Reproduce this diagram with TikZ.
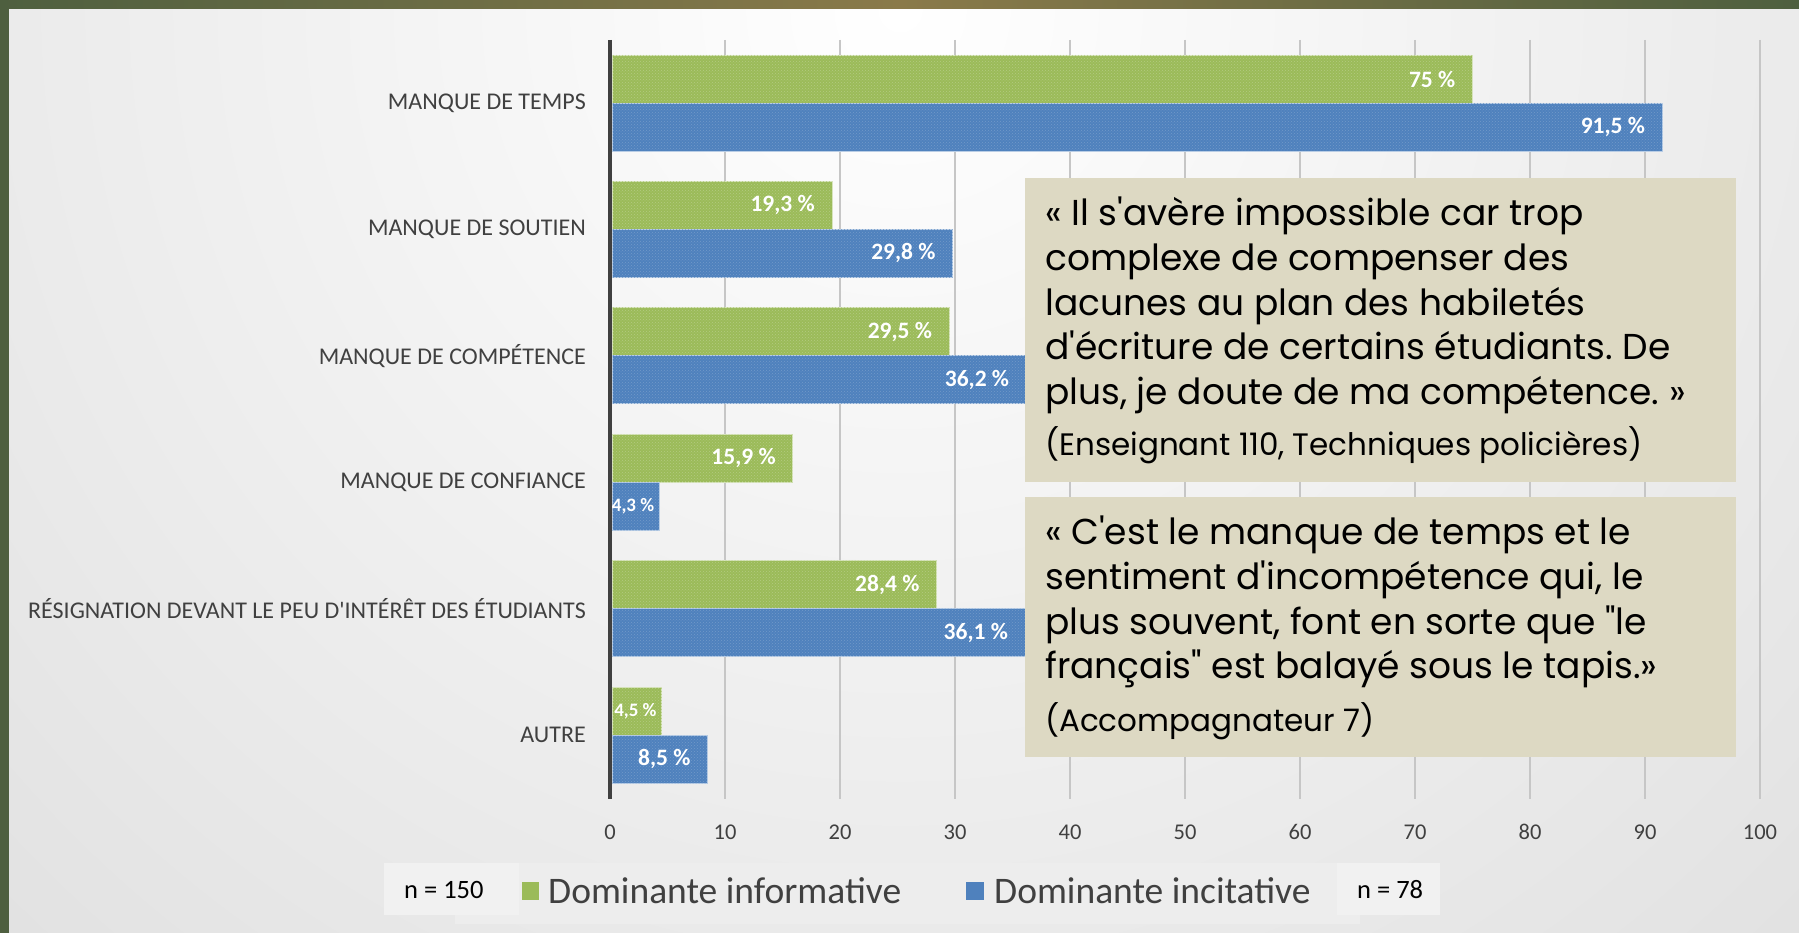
\documentclass[tikz,border=0pt]{standalone}
\usepackage{fontspec}
\setmainfont{Carlito}
\newfontfamily\quotefont{Poppins}
\usetikzlibrary{patterns}
\definecolor{frame}{HTML}{4E5F3F}
\definecolor{gold}{HTML}{8A7A4A}
\definecolor{panelgray}{HTML}{C4C4C4}
\definecolor{barinf}{HTML}{9BBB59}
\definecolor{barinc}{HTML}{4F81BD}
\definecolor{quotebg}{HTML}{DDD9C3}
\definecolor{txtgray}{HTML}{404040}
\definecolor{gridgray}{HTML}{C6C6C6}
\newcommand{\ap}{\textquotesingle}
\frenchspacing
\tikzset{
  catlabel/.style={anchor=east, inner sep=0, text=txtgray, font=\fontsize{24}{28}\selectfont},
  ticklabel/.style={inner sep=0, text=txtgray, font=\fontsize{22.5}{26}\selectfont},
  vallabel/.style={anchor=east, inner sep=0, text=white, font=\bfseries\fontsize{23.5}{27}\selectfont},
  smallval/.style={vallabel, xshift=12pt, font=\bfseries\fontsize{19}{22}\selectfont},
  infbar/.style={fill=barinf, draw=white!60!barinf, line width=0.8pt,
    postaction={pattern=crosshatch dots, pattern color=white!25!barinf}},
  incbar/.style={fill=barinc, draw=white!60!barinc, line width=0.8pt,
    postaction={pattern=crosshatch dots, pattern color=white!20!barinc}},
  gridline/.style={gridgray, line width=2pt},
  axisline/.style={txtgray, line width=4pt},
  quotebox/.style={fill=quotebg, draw=none},
  quotetext/.style={anchor=north west, inner sep=0, align=left, text=black,
    font=\quotefont\fontsize{36}{44.6}\selectfont},
  attrtext/.style={anchor=west, inner sep=0, text=black,
    font=\quotefont\fontsize{31}{36}\selectfont},
  legendtext/.style={anchor=west, inner sep=0, text=txtgray, font=\fontsize{37.5}{44}\selectfont},
  ntext/.style={anchor=west, inner sep=0, text=black, font=\fontsize{26.5}{31}\selectfont}
}

\begin{document}
\begin{tikzpicture}[x=1pt, y=-1pt]
\useasboundingbox (0,0) rectangle (1799,933);
% frame and background panel
\fill[frame] (0,0) rectangle (1799,933);
\shade[left color=frame, right color=frame, middle color=gold] (0,0) rectangle (1799,10);
\begin{scope}
  \clip (9,10) rectangle (1799,933);
  \fill[panelgray] (9,10) rectangle (1799,933);
  \shade[inner color=white, outer color=panelgray] (900,10) circle (2600pt);
\end{scope}

% grid and axis
\foreach \k in {1,...,10}
  \draw[gridline] ({610+115*\k},40) -- ({610+115*\k},799);
\foreach \k in {0,...,10}
  \node[ticklabel] (tick\k) at ({610+115*\k},832) {\pgfmathparse{int(10*\k)}\pgfmathresult};

% bars
\foreach \i/\a/\b/\la/\lb/\sa/\sb in {
  0/75/91.5/{75 \%}/{91,5 \%}/vallabel/vallabel,
  1/19.3/29.8/{19,3 \%}/{29,8 \%}/vallabel/vallabel,
  2/29.5/36.2/{29,5 \%}/{36,2 \%}/vallabel/vallabel,
  3/15.9/4.3/{15,9 \%}/{4,3 \%}/vallabel/smallval,
  4/28.4/36.1/{28,4 \%}/{36,1 \%}/vallabel/vallabel,
  5/4.5/8.5/{4,5 \%}/{8,5 \%}/smallval/vallabel}{
  \pgfmathsetmacro{\c}{103+126.4*\i}
  \draw[infbar] (612,\c-48) rectangle ({610+11.5*\a},\c);
  \draw[incbar] (612,\c) rectangle ({610+11.5*\b},\c+48);
  \node[\sa] (inf\i) at ({610+11.5*\a-17},\c-24) {\la};
  \node[\sb] (inc\i) at ({610+11.5*\b-17},\c+24) {\lb};
}
\draw[axisline] (610,40) -- (610,799);

% categories
\foreach \i/\t in {0/{MANQUE DE TEMPS}, 1/{MANQUE DE SOUTIEN},
  2/{MANQUE DE COMPÉTENCE}, 3/{MANQUE DE CONFIANCE},
  4/{RÉSIGNATION DEVANT LE PEU D\ap INTÉRÊT DES ÉTUDIANTS}, 5/{AUTRE}}
  \node[catlabel] (cat\i) at (586,{103+126.4*\i}) {\t};

% quotes
\fill[quotebox] (1025,178) rectangle (1736,482);
\node[quotetext] (q1) at (1045,197) {« Il s\ap avère impossible car trop\\
  complexe de compenser des\\
  lacunes au plan des habiletés\\
  d\ap écriture de certains étudiants. De\\
  plus, je doute de ma compétence. »};
\node[attrtext] (a1) at (1045,445) {(Enseignant 110, Techniques policières)};

\fill[quotebox] (1025,497) rectangle (1736,757);
\node[quotetext] (q2) at (1045,516) {« C\ap est le manque de temps et le\\
  sentiment d\ap incompétence qui, le\\
  plus souvent, font en sorte que "le\\
  français" est balayé sous le tapis.»};
\node[attrtext] (a2) at (1045,721) {(Accompagnateur 7)};

% legend
\fill[gray!14] (455,863) rectangle (1360,924);
\fill[gray!11] (384,863) rectangle (519,915);
\fill[gray!11] (1337,863) rectangle (1440,915);
\node[ntext] (n1) at (404,890) {n = 150};
\node[ntext] (n2) at (1357,890) {n = 78};
\fill[barinf] (522,882) rectangle (539,900);
\node[legendtext] (l1) at (548,891) {Dominante informative};
\fill[barinc] (966,882) rectangle (984,900);
\node[legendtext] (l2) at (994,891) {Dominante incitative};
\end{tikzpicture}
\end{document}
